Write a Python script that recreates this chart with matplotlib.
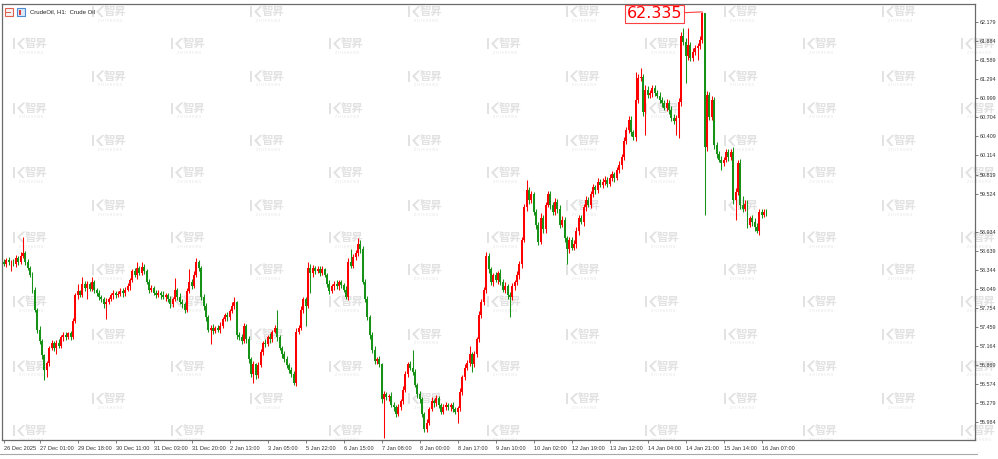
import numpy as np
import matplotlib
matplotlib.use("Agg")
import matplotlib.pyplot as plt
from matplotlib.patches import Polygon, Rectangle

# hourly closes, CrudeOil H1 (26 Dec 2025 - 16 Jan 2026)
open0 = 58.47
close = [
    58.44, 58.50, 58.46, 58.47, 58.43, 58.53, 58.47, 58.56, 58.60, 58.47,
    58.38, 58.26, 58.04, 57.73, 57.42, 57.24, 57.02, 56.80, 56.90, 57.14,
    57.21, 57.14, 57.22, 57.17, 57.30, 57.34, 57.30, 57.36, 57.31, 57.55,
    57.95, 58.01, 57.96, 58.12, 58.07, 58.13, 58.05, 58.15, 58.04, 57.98,
    57.93, 57.89, 57.82, 57.85, 57.89, 57.95, 57.98, 57.95, 57.97, 58.02, 57.98,
    58.04, 58.09, 58.19, 58.32, 58.26, 58.38, 58.30, 58.39, 58.33, 58.16,
    58.04, 58.07, 57.99, 57.96, 57.99, 57.95, 57.92, 57.95, 57.89, 57.81,
    57.89, 58.04, 57.93, 57.85, 57.81, 57.73, 58.01, 58.16, 58.10, 58.27,
    58.46, 58.38, 57.92, 57.79, 57.61, 57.42, 57.45, 57.40, 57.45, 57.42,
    57.48, 57.58, 57.64, 57.61, 57.70, 57.79, 57.84, 57.34, 57.30, 57.25,
    57.48, 57.27, 56.96, 56.73, 56.88, 56.71, 56.87, 57.08, 57.22, 57.19,
    57.30, 57.27, 57.39, 57.44, 57.30, 57.14, 57.04, 56.97, 56.87, 56.80,
    56.73, 56.60, 57.39, 57.45, 57.73, 57.89, 57.79, 58.38, 58.29, 58.38,
    58.32, 58.36, 58.30, 58.35, 58.26, 58.13, 58.01, 58.09, 58.13, 58.09,
    58.15, 58.11, 58.04, 57.93, 58.46, 58.41, 58.55, 58.60, 58.75, 58.66, 58.16,
    57.89, 57.61, 57.34, 57.11, 56.93, 56.96, 56.88, 56.34, 56.42, 56.37,
    56.40, 56.26, 56.22, 56.12, 56.22, 56.31, 56.49, 56.73, 56.88, 56.83,
    56.77, 56.57, 56.42, 56.34, 56.11, 55.88, 55.98, 56.19, 56.31, 56.28,
    56.36, 56.26, 56.15, 56.22, 56.26, 56.22, 56.25, 56.19, 56.15, 56.20,
    56.46, 56.68, 56.83, 56.90, 57.04, 56.88, 57.04, 57.27, 57.65, 57.84,
    58.04, 58.56, 58.35, 58.15, 58.26, 58.19, 58.29, 58.16, 58.04, 58.10,
    57.96, 57.92, 58.09, 58.15, 58.27, 58.43, 58.81, 59.31, 59.58, 59.43,
    59.51, 59.24, 59.04, 58.78, 59.15, 58.97, 59.35, 59.51, 59.35, 59.24,
    59.40, 59.28, 59.04, 59.12, 58.84, 58.66, 58.81, 58.69, 58.75, 58.94, 59.15,
    59.09, 59.31, 59.43, 59.35, 59.51, 59.62, 59.58, 59.71, 59.66, 59.71,
    59.74, 59.68, 59.77, 59.82, 59.77, 59.89, 59.97, 60.09, 60.33, 60.51,
    60.67, 60.47, 60.40, 60.97, 61.31, 61.33, 60.79, 61.13, 61.05, 61.08,
    61.16, 61.08, 61.04, 60.97, 60.93, 60.85, 60.93, 60.82, 60.70, 60.64,
    60.70, 60.94, 61.96, 61.87, 61.65, 61.82, 61.62, 61.72, 61.78, 61.81,
    61.90, 62.32, 60.25, 61.05, 60.71, 60.97, 60.28, 60.13, 60.05, 60.00,
    60.05, 60.16, 60.09, 60.17, 59.43, 59.55, 60.00, 59.35, 59.28, 59.37,
    59.04, 59.14, 59.09, 59.00, 58.95, 59.24, 59.20, 59.24, 59.22,
]

# upper / lower shadow lengths beyond the body
wick_up = [
    .04, .03, .05, .03, .04, .05, .03, .06, .26, .03,
    .04, .03, .05, .04, .03, .05, .04, .03, .04, .03,
    .05, .03, .04, .06, .03, .04, .05, .03, .04, .05,
    .04, .11, .03, .12, .05, .04, .03, .09, .04, .03,
    .05, .03, .04, .06, .03, .04, .05, .03, .04, .04, .05,
    .04, .05, .03, .04, .06, .08, .03, .08, .04, .03,
    .05, .04, .03, .05, .04, .03, .06, .04, .03, .05,
    .04, .18, .03, .05, .04, .03, .05, .19, .04, .06,
    .07, .04, .03, .05, .04, .03, .04, .05, .03, .04,
    .05, .04, .03, .05, .04, .06, .08, .03, .04, .05,
    .04, .03, .05, .04, .06, .03, .05, .04, .03, .05,
    .04, .06, .03, .05, .29, .04, .03, .05, .04, .03,
    .04, .05, .06, .04, .05, .03, .04, .09, .05, .04,
    .03, .05, .04, .06, .03, .04, .05, .03, .04, .05,
    .04, .04, .03, .05, .06, .20, .04, .05, .09, .05, .06,
    .04, .05, .03, .04, .06, .04, .05, .03, .05, .04,
    .03, .05, .04, .03, .05, .04, .06, .05, .04, .05,
    .28, .04, .03, .05, .04, .03, .05, .04, .06, .03,
    .05, .04, .03, .05, .04, .03, .04, .05, .03, .04,
    .05, .04, .06, .05, .12, .04, .05, .04, .06, .05,
    .04, .06, .05, .04, .03, .05, .04, .06, .04, .05,
    .03, .04, .05, .04, .06, .05, .04, .06, .16, .05,
    .06, .04, .05, .04, .07, .05, .04, .06, .05, .04,
    .05, .04, .06, .05, .04, .03, .05, .04, .05, .06, .05,
    .04, .05, .06, .04, .05, .06, .04, .05, .04, .06,
    .05, .04, .06, .05, .04, .05, .06, .05, .07, .05,
    .06, .05, .04, .44, .06, .14, .05, .07, .06, .05,
    .04, .05, .04, .06, .05, .04, .05, .04, .06, .05,
    .04, .06, .07, .13, .06, .27, .05, .06, .05, .04,
    .06, .015, .005, .06, .05, .07, .05, .04, .06, .05,
    .04, .05, .06, .05, .07, .06, .05, .06, .14, .05,
    .05, .04, .06, .05, .07, .04, .05, .04, .04,
]
wick_dn = [
    .03, .05, .04, .14, .03, .04, .05, .03, .04, .05,
    .04, .03, .05, .04, .06, .04, .05, .16, .12, .04,
    .03, .05, .10, .04, .03, .05, .04, .03, .05, .04,
    .03, .05, .04, .03, .05, .18, .04, .03, .05, .04,
    .05, .04, .06, .24, .04, .03, .05, .04, .03, .03, .05,
    .04, .03, .05, .04, .03, .05, .04, .03, .05, .04,
    .06, .04, .03, .05, .04, .06, .03, .05, .04, .05,
    .04, .03, .05, .04, .06, .06, .04, .03, .05, .04,
    .03, .05, .04, .06, .05, .04, .23, .05, .04, .03,
    .05, .04, .03, .05, .04, .03, .05, .06, .04, .05,
    .04, .06, .05, .04, .13, .05, .04, .03, .05, .04,
    .03, .05, .04, .03, .05, .04, .06, .05, .04, .05,
    .04, .04, .05, .04, .03, .05, .32, .04, .30, .05,
    .04, .03, .05, .04, .03, .05, .04, .03, .05, .04,
    .05, .05, .04, .04, .05, .03, .04, .05, .04, .05, .04,
    .05, .04, .06, .05, .04, .05, .04, .05, .59, .04,
    .05, .04, .06, .05, .04, .05, .04, .03, .05, .04,
    .05, .04, .06, .05, .04, .05, .05, .04, .03, .05,
    .04, .05, .04, .03, .05, .04, .06, .05, .04, .17,
    .04, .05, .04, .03, .05, .12, .04, .05, .04, .05,
    .04, .05, .06, .04, .05, .04, .06, .05, .04, .05,
    .06, .31, .04, .05, .04, .06, .05, .04, .05, .06,
    .05, .04, .06, .05, .04, .06, .05, .04, .06, .05,
    .04, .06, .05, .04, .06, .23, .05, .04, .04, .06, .05,
    .04, .06, .05, .04, .05, .04, .06, .05, .04, .05,
    .06, .05, .04, .05, .06, .04, .05, .06, .05, .04,
    .05, .06, .05, .06, .04, .05, .06, .36, .05, .04,
    .06, .05, .04, .05, .06, .04, .05, .06, .05, .04,
    .21, .31, .06, .05, .41, .06, .05, .04, .05, .19,
    .05, .04, 1.05, .06, .05, .04, .06, .05, .04, .11,
    .05, .04, .06, .05, .06, .31, .05, .06, .04, .03,
    .05, .04, .06, .05, .04, .06, .05, .04, .05,
]

time_labels = ["26 Dec 2025", "27 Dec 01:00", "29 Dec 18:00", "30 Dec 11:00",
               "31 Dec 03:00", "31 Dec 20:00", "2 Jan 13:00", "3 Jan 05:00",
               "5 Jan 22:00", "6 Jan 15:00", "7 Jan 08:00", "8 Jan 00:00",
               "8 Jan 17:00", "9 Jan 10:00", "10 Jan 02:00", "12 Jan 19:00",
               "13 Jan 12:00", "14 Jan 04:00", "14 Jan 21:00", "15 Jan 14:00",
               "16 Jan 07:00"]
price_ticks = [62.179, 61.884, 61.589, 61.294, 60.999, 60.704, 60.409, 60.114,
               59.819, 59.524, 58.934, 58.639, 58.344, 58.049, 57.754, 57.459,
               57.164, 56.869, 56.574, 56.279, 55.984]

UP = "#ff0000"
DOWN = "#169216"
MARK = "#e2e2e2"

c = np.array(close)
o = np.array([open0] + close[:-1])
n = len(c)
hi = np.maximum(o, c) + np.array(wick_up)
lo = np.minimum(o, c) - np.array(wick_dn)
x = np.arange(n)
cols = np.where(c >= o, UP, DOWN)

W, H = 998, 459
fig = plt.figure(figsize=(W / 100, H / 100), dpi=100)

# background layer in pixel units (watermarks, title, window lines)
bg = fig.add_axes([0, 0, 1, 1], zorder=0)
bg.set_xlim(0, W)
bg.set_ylim(H, 0)
bg.axis("off")


def draw_mark(ax, cx, cy):
  ax.add_patch(Polygon([(cx - 17, cy - 6), (cx - 14.5, cy - 6), (cx - 14.5, cy + 5), (cx - 17, cy + 5)],
                       closed=True, fc=MARK, ec="none"))
  ax.add_patch(Polygon([(cx - 7, cy - 6), (cx - 13, cy - 0.5), (cx - 8, cy + 5), (cx - 5.5, cy + 5),
                        (cx - 10, cy - 0.5), (cx - 4.5, cy - 6)], closed=True, fc=MARK, ec="none"))
  ax.text(cx + 6, cy - 0.5, "智昇", fontsize=8.2, color=MARK, fontweight="bold",
          family=["Noto Sans CJK SC", "DejaVu Sans"], ha="center", va="center")
  ax.text(cx + 1, cy + 9, "Z H I S H E N G", fontsize=2.3, color=MARK, ha="center", va="center")


for k in range(13):
  cx = 30 + 79 * k
  rows = [44 + 64.5 * r for r in range(0, 7)] if k % 2 == 0 else [12 + 64.5 * r for r in range(0, 7)]
  for cy in rows:
    draw_mark(bg, cx, cy)

# title and icons
bg.add_patch(Rectangle((5, 8), 8, 8, fc="#f4f4f4", ec="#e06050", lw=0.8))
bg.add_patch(Rectangle((6.5, 11.5), 5, 1, fc="#e06050", ec="none"))
bg.add_patch(Rectangle((17, 8), 8, 8, fc="#dce9f8", ec="#4a8ad0", lw=0.8))
bg.add_patch(Rectangle((19, 9.5), 2, 5, fc="#e04040", ec="none"))
bg.text(30, 12, "CrudeOil, H1:  Crude Oil", fontsize=4.3, color="#202020",
        family="Liberation Sans", va="center", ha="left")
bg.plot([0, 977], [454, 454], color="#a8a8a8", lw=0.8)

# price chart
ax = fig.add_axes([2 / W, 19 / H, 973 / W, 436 / H], zorder=1)
ax.set_facecolor("none")
ax.vlines(x, lo, hi, colors=cols, linewidth=0.75)
ax.bar(x, np.maximum(np.abs(c - o), 0.012), bottom=np.minimum(o, c), width=0.8,
       color=cols, linewidth=0)

ax.set_xlim(-0.84, 408.8)
ax.set_ylim(55.712, 62.457)

for s in ax.spines.values():
  s.set_color("#6a6a6a")
  s.set_linewidth(0.9)

ax.yaxis.tick_right()
ax.set_yticks(price_ticks)
ax.set_yticklabels(["{:.3f}".format(p) for p in price_ticks])
ax.tick_params(axis="y", length=2.5, width=0.6, pad=1, labelsize=3.9, colors="#6a6a6a",
               labelcolor="#333333")

label_bars = [0] + list(range(15, n, 16))
ax.set_xticks(label_bars[:len(time_labels)])
ax.set_xticklabels(time_labels)
ax.tick_params(axis="x", length=2.5, width=0.6, pad=1.5, labelsize=4.1, colors="#6a6a6a",
               labelcolor="#333333")
for t in ax.get_xticklabels():
  t.set_ha("left")
  t.set_family("Liberation Sans")
for t in ax.get_yticklabels():
  t.set_family("Liberation Sans")

# highest price marker
imax = int(np.argmax(hi))
ax.annotate("{:.3f}".format(hi[imax]), xy=(imax, hi[imax]), xytext=(-14.5, -1.5),
            textcoords="offset points", ha="right", va="center", fontsize=11.5, color="#ff0000",
            bbox=dict(boxstyle="square,pad=0.12", fc="white", ec="#ff4040", lw=0.8),
            arrowprops=dict(arrowstyle="-", color="#ff4040", lw=0.8, shrinkA=0, shrinkB=0))

fig.savefig("out.png", dpi=100, facecolor="white")
